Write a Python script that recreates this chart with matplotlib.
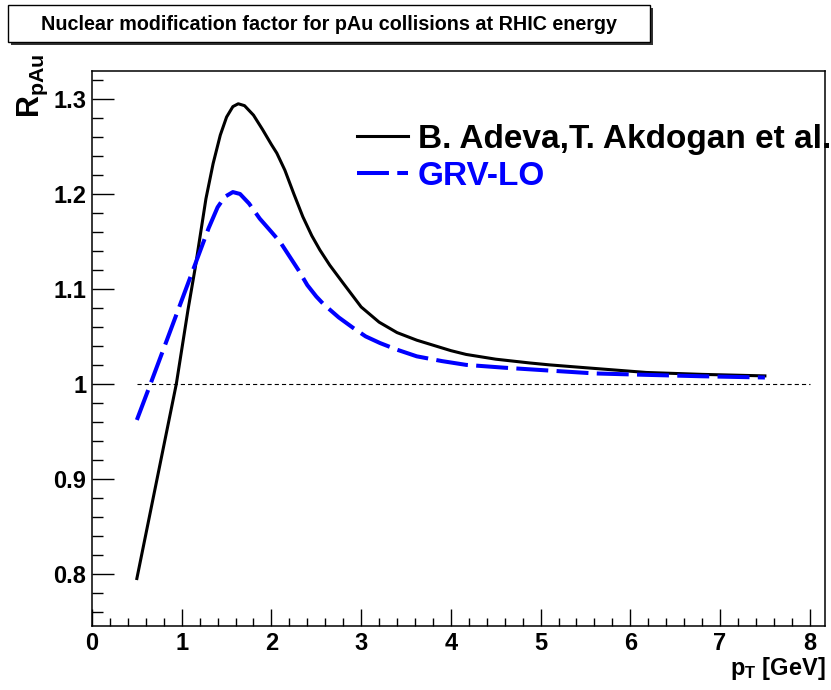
import matplotlib
matplotlib.use("Agg")
import matplotlib.pyplot as plt
from matplotlib.patches import Rectangle

# values
adeva_pt = [0.50, 0.94, 1.07, 1.15, 1.27, 1.35, 1.43, 1.50, 1.57, 1.63, 1.70, 1.80,
            1.90, 2.00, 2.06, 2.15, 2.25, 2.35, 2.45, 2.54, 2.65, 2.80, 3.00, 3.20,
            3.40, 3.62, 4.00, 4.17, 4.50, 4.88, 5.10, 5.50, 6.18, 6.80, 7.50]
adeva_r = [0.795, 1.000, 1.078, 1.122, 1.195, 1.232, 1.262, 1.281, 1.292, 1.295, 1.293, 1.283,
           1.268, 1.252, 1.243, 1.225, 1.200, 1.176, 1.156, 1.141, 1.125, 1.106, 1.081, 1.065,
           1.054, 1.046, 1.035, 1.031, 1.026, 1.022, 1.020, 1.017, 1.012, 1.010, 1.0084]

grv_pt = [0.50, 0.66, 0.85, 1.00, 1.15, 1.30, 1.40, 1.48, 1.57, 1.65, 1.75, 1.87,
          2.00, 2.10, 2.30, 2.40, 2.50, 2.58, 2.75, 2.91, 3.05, 3.21, 3.40, 3.62,
          3.90, 4.17, 4.60, 5.10, 5.60, 6.18, 6.80, 7.50]
grv_r = [0.962, 1.002, 1.050, 1.088, 1.126, 1.164, 1.186, 1.197, 1.202, 1.200, 1.190, 1.174,
         1.160, 1.149, 1.120, 1.104, 1.092, 1.084, 1.070, 1.059, 1.050, 1.043, 1.036, 1.029,
         1.024, 1.020, 1.017, 1.014, 1.011, 1.0095, 1.008, 1.0067]

ref_level = 1.0
ref_range = (0.5, 8.0)

title = "Nuclear modification factor for pAu collisions at RHIC energy"
label_adeva = "B. Adeva,T. Akdogan et al."
label_grv = "GRV-LO"

plt.rcParams['font.family'] = ['Liberation Sans', 'DejaVu Sans']
plt.rcParams['font.weight'] = 'bold'
plt.rcParams['mathtext.fontset'] = 'custom'
plt.rcParams['mathtext.rm'] = 'Liberation Sans:bold'
plt.rcParams['mathtext.it'] = 'Liberation Sans:bold'
plt.rcParams['mathtext.bf'] = 'Liberation Sans:bold'
plt.rcParams['lines.scale_dashes'] = False

W, H = 831, 690
fig = plt.figure(figsize=(W / 100, H / 100), dpi=100)
ax = fig.add_axes([92 / W, 1 - 626 / H, (825 - 92) / W, (626 - 71) / H])

ax.plot(adeva_pt, adeva_r, color='black', lw=2.2, label=label_adeva,
        solid_joinstyle='round')
ax.plot(grv_pt, grv_r, color=(0, 0, 1), lw=2.9, ls=(0, (23, 6)), label=label_grv)
ax.hlines(ref_level, *ref_range, color='black', lw=0.8, linestyles=[(0, (3, 2.2))])

ax.set_xlim(0, 8.17)
ax.set_ylim(0.745, 1.3295)
ax.set_xticks([0, 1, 2, 3, 4, 5, 6, 7, 8])
ax.set_xticks([i * 0.2 for i in range(41)], minor=True)
ax.set_yticks([0.8, 0.9, 1.0, 1.1, 1.2, 1.3])
ax.set_yticklabels(['0.8', '0.9', '1', '1.1', '1.2', '1.3'])
ax.set_yticks([0.76 + i * 0.02 for i in range(29)], minor=True)

ax.tick_params(axis='both', which='both', direction='in', top=False, right=False,
               labelsize=17, width=1.0)
ax.tick_params(axis='x', which='major', length=12, pad=4)
ax.tick_params(axis='x', which='minor', length=6)
ax.tick_params(axis='y', which='major', length=16, pad=4)
ax.tick_params(axis='y', which='minor', length=8)
for s in ax.spines.values():
    s.set_linewidth(1.1)

leg = ax.legend(loc='upper left', bbox_to_anchor=(357 / W, 1 - 124 / H),
                bbox_transform=fig.transFigure, frameon=False, fontsize=24,
                handlelength=1.53, handletextpad=0.3, labelspacing=0.18,
                borderpad=0, borderaxespad=0, labelcolor='linecolor')

fig.text(33 / W, 1 - 54 / H, r'$\mathregular{R_{pAu}}$', rotation=90,
         ha='center', va='top', fontsize=22)
fig.text(826 / W, 1 - 675 / H, r'$\mathregular{p_{T}}$ [GeV]', ha='right',
         va='baseline', fontsize=17)

# title box with shadow
fig.patches.append(Rectangle((11 / W, 1 - 45 / H), 642 / W, 37 / H,
                             transform=fig.transFigure, facecolor='#333333',
                             edgecolor='none', zorder=1))
fig.patches.append(Rectangle((8 / W, 1 - 42 / H), 642 / W, 37 / H,
                             transform=fig.transFigure, facecolor='white',
                             edgecolor='black', lw=1.0, zorder=2))
fig.text(329 / W, 1 - 24 / H, title, ha='center', va='center', fontsize=14.2, zorder=3)

fig.savefig('out.png', dpi=100)
